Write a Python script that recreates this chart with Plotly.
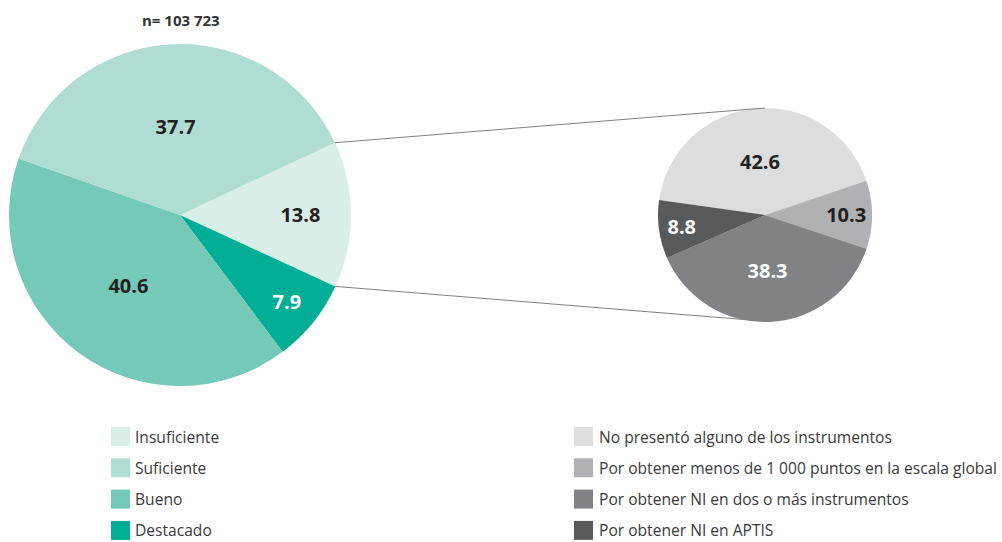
import math
import plotly.graph_objects as go

W, H = 1002, 542

# ---- data ----
main_labels = ["Insuficiente", "Destacado", "Bueno", "Suficiente"]
main_values = [13.8, 7.9, 40.6, 37.7]
main_colors = ["#d9eee9", "#00ae96", "#74c9b9", "#b0ddd3"]
main_text_colors = ["#231f20", "#ffffff", "#231f20", "#231f20"]
legend1_labels = ["Insuficiente", "Suficiente", "Bueno", "Destacado"]

sub_labels = ["No presentó alguno de los instrumentos",
              "Por obtener menos de 1 000 puntos en la escala global",
              "Por obtener NI en dos o más instrumentos",
              "Por obtener NI en APTIS"]
sub_values = [42.6, 10.3, 38.3, 8.8]
sub_colors = ["#dcdddf", "#b0b1b4", "#808285", "#58595b"]
sub_text_colors = ["#231f20", "#231f20", "#ffffff", "#ffffff"]

n_text = "n= 103 723"

FONT = "Open Sans"

# ---- geometry (pixels) ----
main_c = (180, 215); main_r = 171
sub_c = (765, 215); sub_r = 107
main_rot = 65   # degrees clockwise from 12 o'clock
sub_rot = -82

def px2paper(x, y):
    return x / W, 1 - y / H

def dom(c, r):
    return dict(x=[(c[0] - r) / W, (c[0] + r) / W],
                y=[1 - (c[1] + r) / H, 1 - (c[1] - r) / H])

fig = go.Figure()
fig.add_trace(go.Pie(
    labels=main_labels, values=main_values, sort=False, direction="clockwise",
    rotation=main_rot, domain=dom(main_c, main_r),
    marker=dict(colors=main_colors, line=dict(width=0)),
    texttemplate="%{value:.1f}", textposition="inside", insidetextorientation="horizontal",
    textfont=dict(family=FONT, size=20, color=main_text_colors, weight="bold"),
    hoverinfo="skip", showlegend=False))
fig.add_trace(go.Pie(
    labels=sub_labels, values=sub_values, sort=False, direction="clockwise",
    rotation=sub_rot, domain=dom(sub_c, sub_r),
    marker=dict(colors=sub_colors, line=dict(width=0)),
    texttemplate="%{value:.1f}", textposition="inside", insidetextorientation="horizontal",
    textfont=dict(family=FONT, size=20, color=sub_text_colors, weight="bold"),
    hoverinfo="skip", showlegend=False))

# connector lines from the Insuficiente slice edges to top/bottom of sub pie
start_deg = 90 - main_rot  # math angle of first slice start
end_deg = start_deg - main_values[0] / sum(main_values) * 360
shapes = []
for ang, target in [(start_deg, (sub_c[0], sub_c[1] - sub_r)),
                    (end_deg, (sub_c[0] - 15, sub_c[1] + sub_r - 2))]:
    x0 = main_c[0] + main_r * math.cos(math.radians(ang))
    y0 = main_c[1] - main_r * math.sin(math.radians(ang))
    p0 = px2paper(x0, y0); p1 = px2paper(*target)
    shapes.append(dict(type="line", xref="paper", yref="paper",
                       x0=p0[0], y0=p0[1], x1=p1[0], y1=p1[1],
                       line=dict(color="#808080", width=1)))

# legends
annotations = []
def legend(labels, colors, x_sq, x_txt, y_first, step=31.3, sq=19):
    for i, (lab, col) in enumerate(zip(labels, colors)):
        yc = y_first + i * step
        a = px2paper(x_sq, yc - sq / 2); b = px2paper(x_sq + sq, yc + sq / 2)
        shapes.append(dict(type="rect", xref="paper", yref="paper",
                           x0=a[0], y0=b[1], x1=b[0], y1=a[1],
                           fillcolor=col, line=dict(width=0)))
        t = px2paper(x_txt, yc)
        annotations.append(dict(x=t[0], y=t[1], xref="paper", yref="paper",
                                text=lab, showarrow=False, xanchor="left", yanchor="middle",
                                borderpad=0,
                                font=dict(family=FONT, size=15.6, color="#3a3a3a")))

leg1_colors = [main_colors[main_labels.index(l)] for l in legend1_labels]
legend(legend1_labels, leg1_colors, 111, 134, 436.5)
legend(sub_labels, sub_colors, 574, 598, 436.5)

t = px2paper(181, 20)
annotations.append(dict(x=t[0], y=t[1], xref="paper", yref="paper", text="<b>" + n_text + "</b>",
                        showarrow=False, xanchor="center", yanchor="middle",
                        font=dict(family=FONT, size=15, color="#333333")))

fig.update_layout(width=W, height=H, margin=dict(l=0, r=0, t=0, b=0),
                  paper_bgcolor="white", plot_bgcolor="white",
                  shapes=shapes, annotations=annotations, showlegend=False)
fig.write_html("out.html", config={"displayModeBar": False},
               post_script="document.body.style.margin='0';document.body.style.overflow='hidden';")
